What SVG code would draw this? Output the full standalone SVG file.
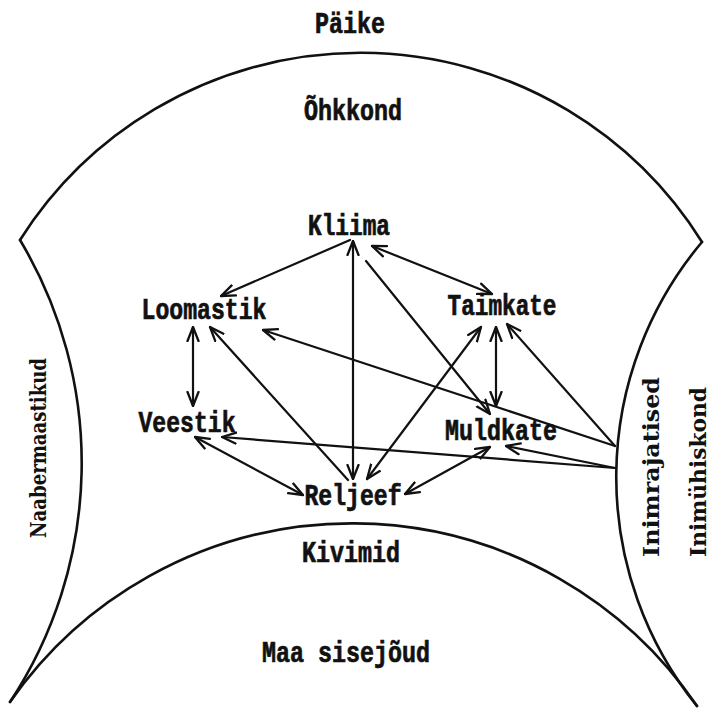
<svg xmlns="http://www.w3.org/2000/svg" width="711" height="710" viewBox="0 0 711 710">
  <style>
    .bound { fill: none; stroke: #111; stroke-width: 2.6; stroke-linecap: round; }
    .link { fill: none; stroke: #111; stroke-width: 2.2; stroke-linecap: round; }
    .tw { font-family: "Liberation Mono", "Courier New", monospace; font-weight: bold; font-size: 24px; fill: #111; stroke: #111; stroke-width: 0.6; text-anchor: middle; }
    .side { font-family: "DejaVu Serif", "Liberation Serif", serif; font-weight: bold; font-size: 22px; fill: #111; text-anchor: middle; }
  </style>
  <defs>
    <marker id="head" viewBox="0 0 16 14" refX="15" refY="7" markerWidth="16" markerHeight="14" markerUnits="userSpaceOnUse" orient="auto-start-reverse">
      <path d="M1,1.5 L15,7 L1,12.5" fill="none" stroke="#111" stroke-width="2.3" stroke-linecap="round" stroke-linejoin="round"/>
    </marker>
  </defs>
  <rect width="711" height="710" fill="#fff"/>

  <!-- outer spheres: atmosphere dome, side regions and bedrock dome -->
  <g id="boundaries">
    <path class="bound" d="M20 240 A403 403 0 0 1 702 242"/>
    <path class="bound" d="M20 240 A434 434 0 0 1 10 702"/>
    <path class="bound" d="M702 242 A365 365 0 0 0 697 706"/>
    <path class="bound" d="M10 702 A417 417 0 0 1 697 706"/>
  </g>

  <!-- outer region labels -->
  <g id="paike"><g transform="translate(350,33) scale(1,1.2)"><text class="tw" textLength="70" lengthAdjust="spacingAndGlyphs">Päike</text></g></g>
  <g id="ohkkond"><g transform="translate(353,120) scale(1,1.2)"><text class="tw" textLength="98" lengthAdjust="spacingAndGlyphs">Õhkkond</text></g></g>
  <g id="kivimid"><g transform="translate(351,562) scale(1,1.2)"><text class="tw" textLength="98" lengthAdjust="spacingAndGlyphs">Kivimid</text></g></g>
  <g id="maa-sisejoud"><g transform="translate(346,662) scale(1,1.2)"><text class="tw" textLength="168" lengthAdjust="spacingAndGlyphs">Maa sisejõud</text></g></g>
  <g id="naabermaastikud"><text class="side" transform="translate(46,448) rotate(-90)" textLength="180" lengthAdjust="spacingAndGlyphs">Naabermaastikud</text></g>
  <g id="inimrajatised"><text class="side" transform="translate(659,467) rotate(-90)" textLength="180" lengthAdjust="spacingAndGlyphs">Inimrajatised</text></g>
  <g id="inimuhiskond"><text class="side" transform="translate(706,472) rotate(-90)" textLength="170" lengthAdjust="spacingAndGlyphs">Inimühiskond</text></g>

  <!-- landscape components -->
  <g id="kliima"><g transform="translate(349,235) scale(1,1.2)"><text class="tw" textLength="82" lengthAdjust="spacingAndGlyphs">Kliima</text></g></g>
  <g id="loomastik"><g transform="translate(204,319) scale(1,1.2)"><text class="tw" textLength="125" lengthAdjust="spacingAndGlyphs">Loomastik</text></g></g>
  <g id="taimkate"><g transform="translate(502,315) scale(1,1.2)"><text class="tw" textLength="109" lengthAdjust="spacingAndGlyphs">Taimkate</text></g></g>
  <g id="veestik"><g transform="translate(187,432) scale(1,1.2)"><text class="tw" textLength="97" lengthAdjust="spacingAndGlyphs">Veestik</text></g></g>
  <g id="muldkate"><g transform="translate(501,440) scale(1,1.2)"><text class="tw" textLength="112" lengthAdjust="spacingAndGlyphs">Muldkate</text></g></g>
  <g id="reljeef"><g transform="translate(353,505) scale(1,1.2)"><text class="tw" textLength="97" lengthAdjust="spacingAndGlyphs">Reljeef</text></g></g>

  <!-- interactions -->
  <g id="connectors">
    <path class="link" d="M350 240 L221 296" marker-end="url(#head)"/>
    <path class="link" d="M353 241 L353 479" marker-start="url(#head)" marker-end="url(#head)"/>
    <path class="link" d="M372 246 L492 294" marker-start="url(#head)" marker-end="url(#head)"/>
    <path class="link" d="M366 261 L490 414" marker-end="url(#head)"/>
    <path class="link" d="M193 327 L193 406" marker-start="url(#head)" marker-end="url(#head)"/>
    <path class="link" d="M348 480 L210 327" marker-end="url(#head)"/>
    <path class="link" d="M615 446 L263 330" marker-end="url(#head)"/>
    <path class="link" d="M615 468 L222 437" marker-end="url(#head)"/>
    <path class="link" d="M615 468 L506 446" marker-end="url(#head)"/>
    <path class="link" d="M615 446 L507 324" marker-end="url(#head)"/>
    <path class="link" d="M496 327 L496 406" marker-start="url(#head)" marker-end="url(#head)"/>
    <path class="link" d="M367 479 L481 327" marker-start="url(#head)" marker-end="url(#head)"/>
    <path class="link" d="M195 437 L303 495" marker-start="url(#head)" marker-end="url(#head)"/>
    <path class="link" d="M405 494 L490 447" marker-start="url(#head)" marker-end="url(#head)"/>
  </g>
</svg>
